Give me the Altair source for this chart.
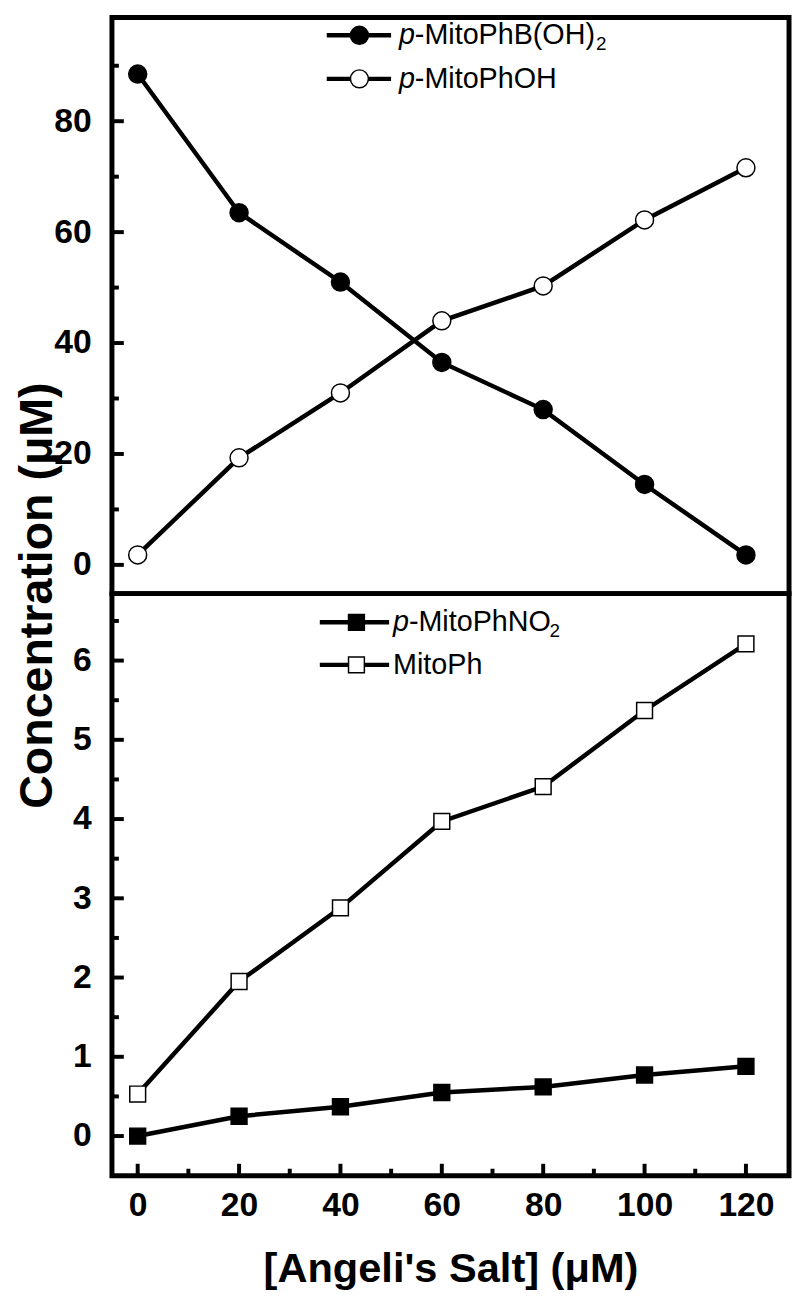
import altair as alt
import pandas as pd

# ---------------- data ----------------
salt = [0, 20, 40, 60, 80, 100, 120]
boronic = [88.5, 63.5, 51.0, 36.5, 28.0, 14.5, 1.8]      # p-MitoPhB(OH)2
phenol = [1.8, 19.3, 31.0, 44.0, 50.3, 62.2, 71.6]        # p-MitoPhOH
nitro = [0.0, 0.25, 0.37, 0.55, 0.62, 0.77, 0.88]         # p-MitoPhNO2
mitoph = [0.53, 1.95, 2.88, 3.97, 4.41, 5.37, 6.21]       # MitoPh

top_major = [0, 20, 40, 60, 80]
top_minor = [10, 30, 50, 70, 90]
bot_major = [0, 1, 2, 3, 4, 5, 6]
bot_minor = [0.5, 1.5, 2.5, 3.5, 4.5, 5.5, 6.5]
x_major = [0, 20, 40, 60, 80, 100, 120]
x_minor = [10, 30, 50, 70, 90, 110]

y_title = "Concentration (\u03bcM)"
x_title = "[Angeli's Salt] (\u03bcM)"

W = 684
H_TOP = 582
H_BOT = 588
FONT = "Liberation Sans, Arial"

xscale = alt.Scale(domain=[-5.08, 128.5], nice=False, zero=False)
yscale_top = alt.Scale(domain=[-5.18, 98.7], nice=False, zero=False)
yscale_bot = alt.Scale(domain=[-0.5, 6.845], nice=False, zero=False)


def series_df(a, b, name_a, name_b):
    rows = []
    for x, v in zip(salt, a):
        rows.append({"x": x, "v": v, "s": name_a})
    for x, v in zip(salt, b):
        rows.append({"x": x, "v": v, "s": name_b})
    return pd.DataFrame(rows)


def panel(df, filled_name, open_name, yscale, height, major, minor, shape, size,
          show_x, legend_rows):
    yaxis = alt.Axis(values=major, ticks=False, domain=False, grid=False,
                     labelFont=FONT, labelFontWeight="bold", labelFontSize=34,
                     labelPadding=21, labelColor="black", title=None)
    xaxis = (alt.Axis(values=x_major, ticks=False, domain=False, grid=False,
                      labelFont=FONT, labelFontWeight="bold", labelFontSize=34,
                      labelPadding=13, labelColor="black",
                      title=x_title, titleFont=FONT,
                      titleFontWeight="bold", titleFontSize=42, titlePadding=27,
                      titleColor="black")
             if show_x else None)

    X = lambda f: alt.X(f, scale=xscale, axis=xaxis)
    Y = lambda f: alt.Y(f, scale=yscale, axis=yaxis)

    base = alt.Chart(df)
    lines = base.mark_line(color="black", strokeWidth=4.5).encode(
        x=X("x:Q"), y=Y("v:Q"), detail="s:N")
    pts_f = base.transform_filter(alt.datum.s == filled_name).mark_point(
        shape=shape, size=size, filled=True, fill="black", stroke="black",
        strokeWidth=1.5, opacity=1).encode(x=X("x:Q"), y=Y("v:Q"))
    pts_o = base.transform_filter(alt.datum.s == open_name).mark_point(
        shape=shape, size=size, filled=True, fill="white", stroke="black",
        strokeWidth=1.5, opacity=1).encode(x=X("x:Q"), y=Y("v:Q"))

    ymaj = alt.Chart(pd.DataFrame({"v": major})).mark_rule(
        color="black", strokeWidth=4).encode(
        y=Y("v:Q"), x=alt.value(0), x2=alt.value(12))
    ymin = alt.Chart(pd.DataFrame({"v": minor})).mark_rule(
        color="black", strokeWidth=4).encode(
        y=Y("v:Q"), x=alt.value(0), x2=alt.value(7))

    layers = [ymaj, ymin]
    if show_x:
        xmaj = alt.Chart(pd.DataFrame({"x": x_major})).mark_rule(
            color="black", strokeWidth=4).encode(
            x=X("x:Q"), y=alt.value(height), y2=alt.value(height - 12))
        xmin = alt.Chart(pd.DataFrame({"x": x_minor})).mark_rule(
            color="black", strokeWidth=4).encode(
            x=X("x:Q"), y=alt.value(height), y2=alt.value(height - 7))
        # shared y-axis title, centred on the junction of the two panels
        ytitle = alt.Chart(pd.DataFrame({"k": [0]})).mark_text(
            text=y_title, angle=270, align="center", baseline="middle",
            font=FONT, fontWeight="bold", fontSize=47, color="black").encode(
            x=alt.value(-75), y=alt.value(2))
        layers += [xmaj, xmin, ytitle]

    # ---- manual legend ----
    leg = []
    for (ypx, x0, x1, xm, xt, filled, parts) in legend_rows:
        d = pd.DataFrame({"k": [0]})
        leg.append(alt.Chart(d).mark_rule(color="black", strokeWidth=4.5).encode(
            x=alt.value(x0), x2=alt.value(x1), y=alt.value(ypx)))
        leg.append(alt.Chart(d).mark_point(
            shape=shape, size=size, filled=True,
            fill="black" if filled else "white", stroke="black",
            strokeWidth=1.5, opacity=1).encode(x=alt.value(xm), y=alt.value(ypx)))
        for (txt, dx, style, fsize, dy) in parts:
            leg.append(alt.Chart(d).mark_text(
                text=txt, align="left", baseline="middle", font=FONT,
                fontSize=fsize, fontStyle=style, color="black").encode(
                x=alt.value(xt + dx), y=alt.value(ypx + dy)))

    chart = alt.layer(lines, *layers, pts_f, pts_o, *leg).properties(
        width=W, height=height)
    return chart


df_top = series_df(boronic, phenol, "boronic", "phenol")
df_bot = series_df(nitro, mitoph, "nitro", "mitoph")

top_legend = [
    (18, 217, 282, 250, 290, True,
     [("p", 0, "italic", 29, 0), ("-MitoPhB(OH)", 16, "normal", 29, 0),
      ("2", 199, "normal", 19, 9)]),
    (62, 217, 282, 250, 290, False,
     [("p", 0, "italic", 29, 0), ("-MitoPhOH", 16, "normal", 29, 0)]),
]
bot_legend = [
    (29, 210, 280, 247, 284, True,
     [("p", 0, "italic", 29, 0), ("-MitoPhNO", 16, "normal", 29, 0),
      ("2", 158, "normal", 19, 9)]),
    (72, 210, 280, 247, 284, False,
     [("MitoPh", 0, "normal", 29, 0)]),
]

top = panel(df_top, "boronic", "phenol", yscale_top, H_TOP, top_major, top_minor,
            "circle", 330, False, top_legend)
bottom = panel(df_bot, "nitro", "mitoph", yscale_bot, H_BOT, bot_major, bot_minor,
               "square", 256, True, bot_legend)

chart = alt.vconcat(top, bottom, spacing=0, bounds="flush").properties(
    padding={"left": 3, "top": 0, "right": 0, "bottom": 0},
).configure(background="white").configure_view(stroke="black", strokeWidth=5)

chart.save("out.html", embed_options={"renderer": "svg", "actions": False})
